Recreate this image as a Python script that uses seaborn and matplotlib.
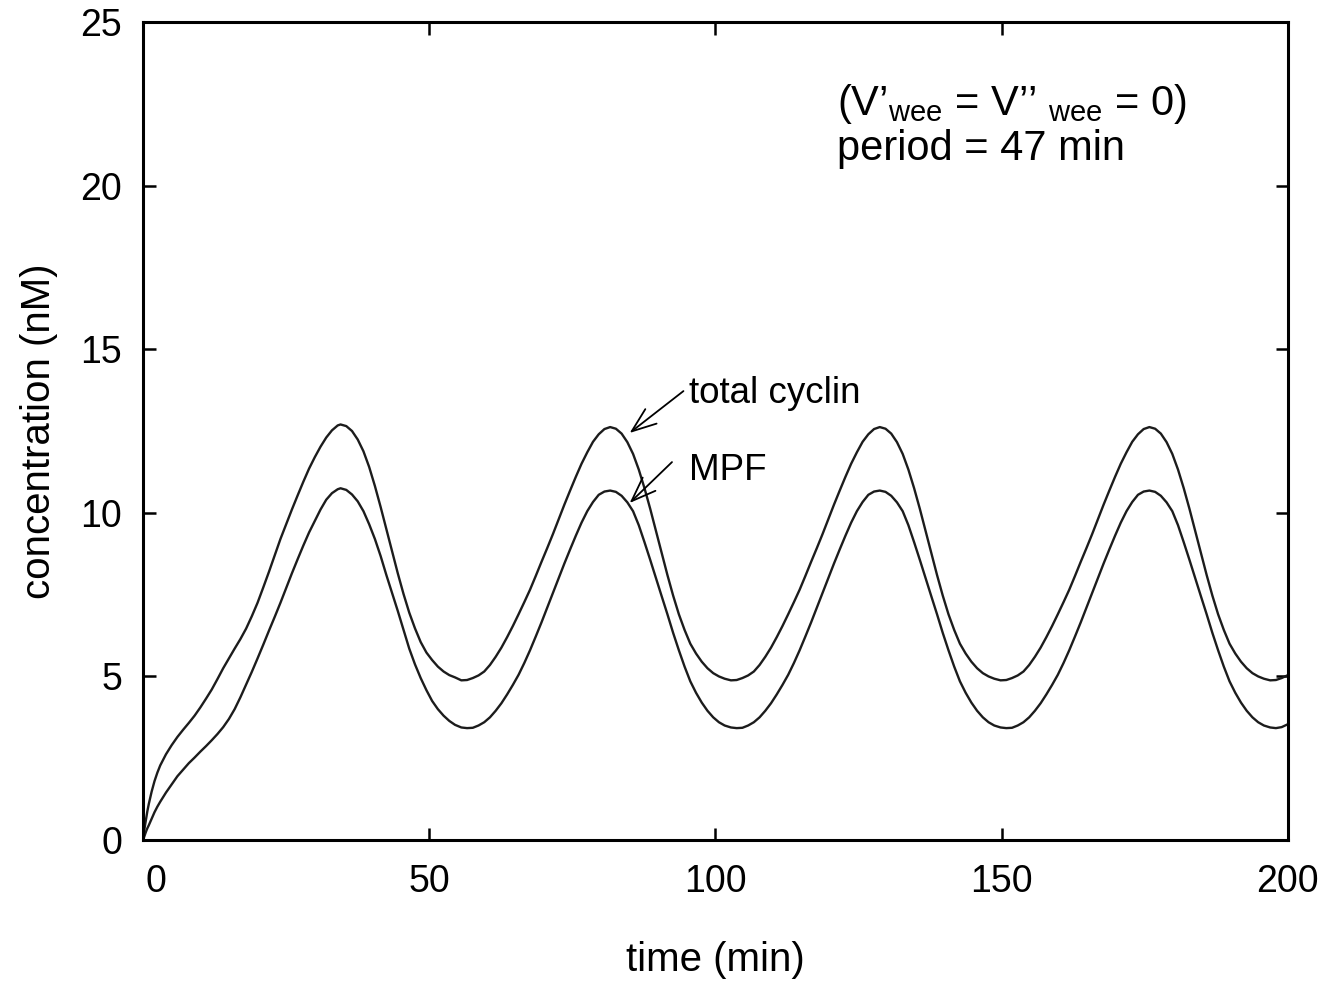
import matplotlib
matplotlib.use("Agg")
import matplotlib.pyplot as plt
import matplotlib.transforms as mtransforms
import seaborn as sns
import pandas as pd

# ---------------- data ----------------
time_min = [
    # first rise and fall
    0, 0.25, 0.5, 0.75, 1, 1.5, 2, 2.5, 3, 4, 5, 6, 7, 8, 9, 10, 11, 12, 13, 14,
    15, 16, 17, 18, 19, 20, 21, 22, 23, 24, 25, 26, 27, 28, 29, 30, 31, 32, 33, 34, 34.5,
    35.5, 36.5, 37.5, 38.5, 39.5, 40.5, 41.5, 42.5, 43.5, 44.5, 45.5, 46.5, 47.5, 48.5,
    49.5, 50.5, 51.5, 52.5, 53.5, 54.5,
    # cycle 2
    55.6, 56.6, 57.6, 58.6, 59.6, 60.6, 61.6, 62.6, 63.6, 64.6, 65.6, 66.6, 67.6, 68.6,
    69.6, 70.6, 71.6, 72.6, 73.6, 74.6, 75.6, 76.6, 77.6, 78.6, 79.6, 80.6, 81.6, 82.6,
    83.6, 84.6, 85.6, 86.6, 87.6, 88.6, 89.6, 90.6, 91.6, 92.6, 93.6, 94.6, 95.6, 96.6,
    97.6, 98.6, 99.6, 100.6, 101.6,
    # cycle 3
    102.7, 103.7, 104.7, 105.7, 106.7, 107.7, 108.7, 109.7, 110.7, 111.7, 112.7, 113.7,
    114.7, 115.7, 116.7, 117.7, 118.7, 119.7, 120.7, 121.7, 122.7, 123.7, 124.7, 125.7,
    126.7, 127.7, 128.7, 129.7, 130.7, 131.7, 132.7, 133.7, 134.7, 135.7, 136.7, 137.7,
    138.7, 139.7, 140.7, 141.7, 142.7, 143.7, 144.7, 145.7, 146.7, 147.7, 148.7,
    # cycle 4
    149.8, 150.8, 151.8, 152.8, 153.8, 154.8, 155.8, 156.8, 157.8, 158.8, 159.8, 160.8,
    161.8, 162.8, 163.8, 164.8, 165.8, 166.8, 167.8, 168.8, 169.8, 170.8, 171.8, 172.8,
    173.8, 174.8, 175.8, 176.8, 177.8, 178.8, 179.8, 180.8, 181.8, 182.8, 183.8, 184.8,
    185.8, 186.8, 187.8, 188.8, 189.8, 190.8, 191.8, 192.8, 193.8, 194.8, 195.8,
    # end
    196.9, 197.9, 198.9, 200,
]

total_cyclin = [
    0, 0.35, 0.62, 0.88, 1.1, 1.48, 1.8, 2.06, 2.28, 2.62, 2.9, 3.15, 3.37, 3.58, 3.8, 4.05, 4.32, 4.6, 4.92, 5.25,
    5.55, 5.85, 6.14, 6.46, 6.84, 7.25, 7.72, 8.2, 8.7, 9.2, 9.65, 10.1, 10.53, 10.95, 11.35, 11.7, 12.02, 12.3, 12.52, 12.67, 12.7,
    12.65, 12.5, 12.24, 11.88, 11.4, 10.82, 10.18, 9.5, 8.82, 8.15, 7.52, 6.95, 6.47, 6.05,
    5.73, 5.5, 5.3, 5.15, 5.04, 4.97,
    # cycle 2
    4.88, 4.89, 4.95, 5.03, 5.15, 5.35, 5.6, 5.88, 6.2, 6.54, 6.9, 7.27, 7.65, 8.07,
    8.5, 8.92, 9.35, 9.8, 10.25, 10.68, 11.1, 11.5, 11.85, 12.17, 12.4, 12.56, 12.62, 12.57,
    12.42, 12.16, 11.8, 11.32, 10.75, 10.12, 9.45, 8.77, 8.1, 7.47, 6.9, 6.42, 6.0, 5.7,
    5.45, 5.25, 5.1, 5.0, 4.93,
    # cycle 3
    4.88, 4.89, 4.95, 5.03, 5.15, 5.35, 5.6, 5.88, 6.2, 6.54, 6.9, 7.27,
    7.65, 8.07, 8.5, 8.92, 9.35, 9.8, 10.25, 10.68, 11.1, 11.5, 11.85, 12.17,
    12.4, 12.56, 12.62, 12.57, 12.42, 12.16, 11.8, 11.32, 10.75, 10.12, 9.45, 8.77,
    8.1, 7.47, 6.9, 6.42, 6.0, 5.7, 5.45, 5.25, 5.1, 5.0, 4.93,
    # cycle 4
    4.88, 4.89, 4.95, 5.03, 5.15, 5.35, 5.6, 5.88, 6.2, 6.54, 6.9, 7.27,
    7.65, 8.07, 8.5, 8.92, 9.35, 9.8, 10.25, 10.68, 11.1, 11.5, 11.85, 12.17,
    12.4, 12.56, 12.62, 12.57, 12.42, 12.16, 11.8, 11.32, 10.75, 10.12, 9.45, 8.77,
    8.1, 7.47, 6.9, 6.42, 6.0, 5.7, 5.45, 5.25, 5.1, 5.0, 4.93,
    # end
    4.88, 4.89, 4.95, 5.04,
]

mpf = [
    0, 0.13, 0.25, 0.36, 0.45, 0.65, 0.85, 1.02, 1.17, 1.45, 1.7, 1.95, 2.15, 2.35, 2.52, 2.7, 2.87, 3.05, 3.24, 3.45,
    3.7, 4.0, 4.36, 4.75, 5.14, 5.55, 5.97, 6.4, 6.82, 7.25, 7.7, 8.15, 8.58, 9.0, 9.4, 9.75, 10.1, 10.4, 10.6, 10.72, 10.75,
    10.7, 10.56, 10.35, 10.05, 9.65, 9.2, 8.68, 8.1, 7.55, 7.0, 6.42, 5.85, 5.37, 4.95,
    4.58, 4.25, 4.0, 3.8, 3.64, 3.52,
    # cycle 2
    3.44, 3.42, 3.43, 3.5, 3.6, 3.75, 3.95, 4.18, 4.45, 4.74, 5.05, 5.41, 5.8, 6.22,
    6.65, 7.1, 7.55, 8.0, 8.45, 8.88, 9.3, 9.7, 10.05, 10.33, 10.55, 10.65, 10.68, 10.64,
    10.52, 10.32, 10.05, 9.62, 9.1, 8.56, 8.0, 7.45, 6.9, 6.33, 5.8, 5.3, 4.85, 4.5,
    4.2, 3.95, 3.75, 3.6, 3.5,
    # cycle 3
    3.44, 3.42, 3.43, 3.5, 3.6, 3.75, 3.95, 4.18, 4.45, 4.74, 5.05, 5.41,
    5.8, 6.22, 6.65, 7.1, 7.55, 8.0, 8.45, 8.88, 9.3, 9.7, 10.05, 10.33,
    10.55, 10.65, 10.68, 10.64, 10.52, 10.32, 10.05, 9.62, 9.1, 8.56, 8.0, 7.45,
    6.9, 6.33, 5.8, 5.3, 4.85, 4.5, 4.2, 3.95, 3.75, 3.6, 3.5,
    # cycle 4
    3.44, 3.42, 3.43, 3.5, 3.6, 3.75, 3.95, 4.18, 4.45, 4.74, 5.05, 5.41,
    5.8, 6.22, 6.65, 7.1, 7.55, 8.0, 8.45, 8.88, 9.3, 9.7, 10.05, 10.33,
    10.55, 10.65, 10.68, 10.64, 10.52, 10.32, 10.05, 9.62, 9.1, 8.56, 8.0, 7.45,
    6.9, 6.33, 5.8, 5.3, 4.85, 4.5, 4.2, 3.95, 3.75, 3.6, 3.5,
    # end
    3.44, 3.42, 3.45, 3.54,
]

x_ticks = [0, 50, 100, 150, 200]
y_ticks = [0, 5, 10, 15, 20, 25]

series_names = ["total cyclin", "MPF"]
annot_text_pos = [(95.4, 13.36), (95.4, 11.0)]
annot_arrow_tail = [(94.4, 13.72), (92.4, 11.55)]
annot_arrow_head = [(85.0, 12.44), (85.0, 10.30)]

# ---------------- plotting ----------------
sns.set_style("ticks")
plt.rcParams["font.family"] = ["Liberation Sans", "DejaVu Sans"]
plt.rcParams["mathtext.fontset"] = "custom"
plt.rcParams["mathtext.rm"] = "Liberation Sans"
plt.rcParams["mathtext.it"] = "Liberation Sans:italic"
plt.rcParams["text.color"] = "black"
plt.rcParams["axes.labelcolor"] = "black"

assert len(time_min) == len(total_cyclin) == len(mpf)

df = pd.DataFrame({
    "time": time_min * 2,
    "conc": total_cyclin + mpf,
    "series": [series_names[0]] * len(time_min) + [series_names[1]] * len(time_min),
})

fig = plt.figure(figsize=(13.37, 9.81), dpi=100)
ax = fig.add_axes([0.107, 0.1437, 0.8563, 0.8339])

sns.lineplot(data=df, x="time", y="conc", hue="series", units="series",
             palette=["#1c1c1c", "#1c1c1c"], linewidth=1.7, legend=False,
             estimator=None, sort=False, ax=ax)

ax.set_xlim(0, 200)
ax.set_ylim(0, 25)
ax.set_xticks(x_ticks)
ax.set_yticks(y_ticks)
ax.tick_params(direction="in", length=9, width=1.8, top=True, right=True,
               labelsize=27, colors="black", pad=15)
ax.tick_params(axis="x", pad=17)
for sp in ax.spines.values():
    sp.set_linewidth(2.2)
    sp.set_color("black")

# the "0" label on the time axis sits a little right of its tick in the reference
fig.canvas.draw()
first_xlabel = ax.get_xticklabels()[0]
first_xlabel.set_transform(first_xlabel.get_transform() +
                           mtransforms.ScaledTranslation(0.13, 0, fig.dpi_scale_trans))

ax.set_xlabel("time (min)", fontsize=29, labelpad=30)
ax.set_ylabel("concentration (nM)", fontsize=29, labelpad=16)

for name, tpos, tail, head in zip(series_names, annot_text_pos, annot_arrow_tail, annot_arrow_head):
    ax.annotate("", xy=head, xytext=tail,
                arrowprops=dict(arrowstyle="->,head_length=0.8,head_width=0.3",
                                mutation_scale=22, color="black", lw=1.3,
                                shrinkA=0, shrinkB=0))
    ax.text(tpos[0], tpos[1], name, fontsize=26.5, va="baseline", ha="left")

ax.text(121.3, 22.16, "(V’$_{\\mathrm{wee}}$ = V’’ $_{\\mathrm{wee}}$ = 0)",
        fontsize=30, va="baseline", ha="left")
ax.text(121.3, 20.78, "period = 47 min", fontsize=30, va="baseline", ha="left")

fig.savefig("out.png", dpi=100)
